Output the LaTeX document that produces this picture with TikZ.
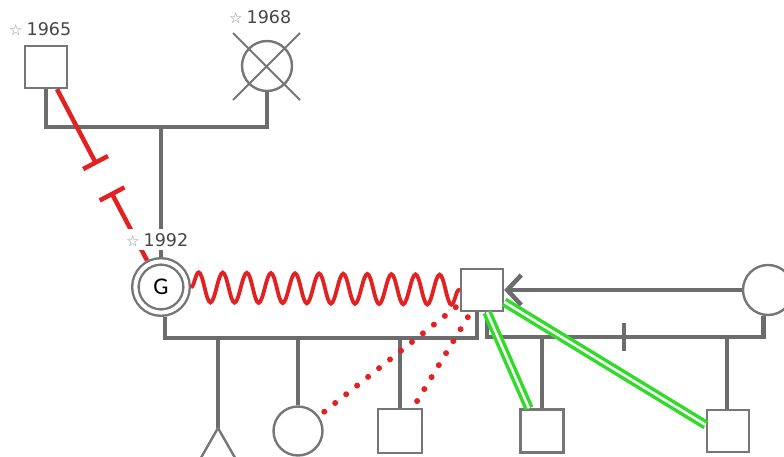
\documentclass[tikz,border=0pt]{standalone}
\usepackage{fontspec}
\setmainfont{DejaVu Sans}
\newfontfamily\gfont{Carlito}
\usetikzlibrary{arrows.meta,decorations.pathmorphing,calc,backgrounds}
\definecolor{lin}{RGB}{108,108,108}
\definecolor{shp}{RGB}{118,118,118}
\definecolor{txt}{RGB}{70,70,70}
\definecolor{starc}{RGB}{140,140,140}
\definecolor{rel}{RGB}{226,34,34}
\definecolor{grn}{RGB}{48,220,40}
\newcommand\yrlab[1]{{\fontsize{15}{15}\selectfont\color{starc}☆}\hspace{4pt}#1}
\begin{document}
\begin{tikzpicture}[x=1pt,y=-1pt,
  tie/.style={draw=lin, line width=4.5pt},
  sq/.style={draw=shp, fill=white, line width=2.4pt, rectangle, minimum size=42pt, inner sep=0pt},
  ci/.style={draw=shp, fill=white, line width=2.4pt, circle, minimum size=49pt, inner sep=0pt},
  yr/.style={anchor=base west, inner sep=0pt, text=txt, font=\fontsize{17.5}{17.5}\selectfont},
  redline/.style={draw=rel, line width=4.5pt},
  dots/.style={draw=rel, line width=6pt, line cap=round, dash pattern=on 0pt off 14pt},
  twin/.style={draw=grn, line width=3.5pt, double=white, double distance=2.5pt}]
\useasboundingbox (0,0) rectangle (784,457);
\clip (0,0) rectangle (784,457);

% people
\node[sq] (m1965) at (46,67) {};
\node[ci, minimum size=50pt] (f1968) at (267,66) {};
\draw[draw=shp, line width=2pt] ($(f1968)+(-34,-33)$) -- ($(f1968)+(33,34)$)
                                ($(f1968)+(33,-33)$) -- ($(f1968)+(-34,34)$);
\node[circle, draw=shp, fill=white, line width=2.4pt, double=white, double distance=4pt,
      minimum size=51.2pt, inner sep=0pt, outer sep=4.4pt] (G) at (161,287)
      {\gfont\fontsize{24}{24}\selectfont G};
\node[sq] (P) at (482,290) {};
\node[ci, minimum size=50pt] (W) at (768,290) {};
\coordinate (T) at (218,428);
\draw[draw=shp, fill=white, line width=2.4pt] (T) -- (194,470) -- (242,470) -- cycle;
\node[ci] (C1) at (298,431) {};
\node[sq, minimum size=44pt] (S1) at (400,431) {};
\node[sq, minimum size=43pt] (S2) at (542,431) {};
\node[sq] (S3) at (728,431) {};

\coordinate (top) at (0,127);
\coordinate (gp) at (0,338);
\coordinate (pw) at (0,337);

% gray family lines
\begin{scope}[on background layer]
\draw[tie] (m1965.south) -- (m1965.south |- top) -| (f1968.south);
\draw[tie] (G.north |- top) -- (G.north);
\draw[tie] (G.-82) -- (G.-82 |- gp) -| ([xshift=-5pt]P.south);
\draw[tie] ([xshift=5pt]P.south) -- ([xshift=5pt]P.south |- pw) -| (W.-100);
\draw[tie] (624,323) -- (624,351);
\draw[tie] (T |- gp) -- (T);
\draw[tie] (C1.north |- gp) -- (C1.north);
\draw[tie] (S1.north |- gp) -- (S1.north);
\draw[tie] (S2.north |- pw) -- (S2.north);
\draw[tie] ([xshift=-1pt]S3.north |- pw) -- ([xshift=-1pt]S3.north);
\end{scope}

% arrow from W to P
\draw[tie, -{Straight Barb[length=14pt, width=30pt]}] (W) -- (P);

% cut-off relation 1965 - G
\coordinate (A) at ([xshift=11pt]m1965.south);
\coordinate (Gb) at ($(G.center)!30pt!(A)$);
\draw[redline, -{Bar[width=28pt]}] (A) -- ($(A)!0.44!(Gb)$);
\draw[redline, {Bar[width=28pt]}-] ($(A)!0.60!(Gb)$) -- (Gb);

% hostile relation G - P
\draw[draw=rel, line width=3.8pt, decorate,
      decoration={snake, segment length=24.1pt, amplitude=15pt}] (G) -- (P);

% dotted relations
\draw[dots] ([xshift=-4pt,yshift=5pt]P.south west) -- ($(C1)!32pt!(P.south west)$);
\draw[dots] ([xshift=8pt,yshift=-5pt]P.south west) -- ([xshift=13pt]S1.north);

% green double relations
\draw[twin] ([xshift=5pt]P.south) -- ([xshift=-13pt]S2.north);
\draw[twin] ([yshift=-12pt]P.east) -- ([yshift=6pt]S3.west);

% labels
\node[yr] (l1965) at (9,36) {\yrlab{1965}};
\node[yr] (l1968) at (229,24) {\yrlab{1968}};
\node[yr, fill=white, inner xsep=1pt, inner ysep=4pt] (l1992) at (125,246) {\yrlab{1992}};
\end{tikzpicture}
\end{document}
